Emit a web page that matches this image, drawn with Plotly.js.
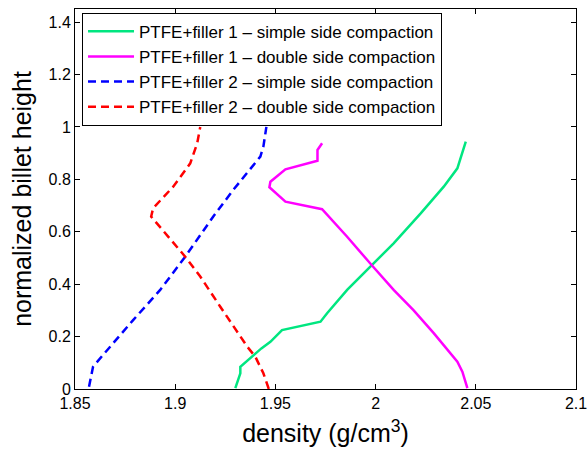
<!DOCTYPE html>
<html>
<head>
<meta charset="utf-8">
<script src="https://cdn.plot.ly/plotly-3.0.1.min.js"></script>
<style>html,body{margin:0;padding:0;background:#fff;}#chart{width:587px;height:450px;}</style>
</head>
<body>
<div id="chart"></div>
<script>
// Series names
const seriesNames = [
  "PTFE+filler 1 \u2013 simple side compaction",
  "PTFE+filler 1 \u2013 double side compaction",
  "PTFE+filler 2 \u2013 simple side compaction",
  "PTFE+filler 2 \u2013 double side compaction"
];

// PTFE+filler 1 – simple side compaction
const f1SimpleDensity = [1.930, 1.9315, 1.9325, 1.9325, 1.938, 1.943, 1.9475, 1.9533, 1.9725, 1.9758, 1.9858, 1.998, 2.009, 2.0225, 2.034, 2.0408, 2.0433, 2.045];
const f1SimpleHeight  = [0.003, 0.040, 0.060, 0.085, 0.123, 0.155, 0.180, 0.225, 0.257, 0.289, 0.378, 0.473, 0.556, 0.670, 0.772, 0.842, 0.900, 0.944];

// PTFE+filler 1 – double side compaction
const f1DoubleDensity = [2.0458, 2.0433, 2.0408, 2.029, 2.019, 2.009, 1.998, 1.9858, 1.9733, 1.955, 1.947, 1.9475, 1.955, 1.971, 1.971, 1.9733];
const f1DoubleHeight  = [0.003, 0.066, 0.104, 0.213, 0.300, 0.378, 0.473, 0.581, 0.686, 0.715, 0.770, 0.791, 0.838, 0.871, 0.912, 0.938];

// PTFE+filler 2 – simple side compaction
const f2SimpleDensity = [1.857, 1.859, 1.864, 1.879, 1.8925, 1.905, 1.919, 1.929, 1.9425, 1.944, 1.9455];
const f2SimpleHeight  = [0.009, 0.085, 0.130, 0.263, 0.378, 0.505, 0.658, 0.760, 0.887, 0.925, 1.000];

// PTFE+filler 2 – double side compaction
const f2DoubleDensity = [1.9467, 1.944, 1.940, 1.936, 1.9225, 1.9125, 1.905, 1.888, 1.889, 1.899, 1.9075, 1.911, 1.9125];
const f2DoubleHeight  = [0.000, 0.060, 0.123, 0.161, 0.314, 0.429, 0.505, 0.658, 0.690, 0.772, 0.861, 0.938, 1.000];

const xTickVals = [1.85, 1.9, 1.95, 2, 2.05, 2.1];
const xTickText = ["1.85", "1.9", "1.95", "2", "2.05", "2.1"];
const yTickVals = [0, 0.2, 0.4, 0.6, 0.8, 1, 1.2, 1.4];
const yTickText = ["0", "0.2", "0.4", "0.6", "0.8", "1", "1.2", "1.4"];

const font = "Liberation Sans, Arial, sans-serif";

const traces = [
  {x: f1SimpleDensity, y: f1SimpleHeight, name: seriesNames[0], mode: "lines",
   line: {color: "rgb(0,230,128)", width: 2.5}},
  {x: f1DoubleDensity, y: f1DoubleHeight, name: seriesNames[1], mode: "lines",
   line: {color: "rgb(255,0,255)", width: 2.5}},
  {x: f2SimpleDensity, y: f2SimpleHeight, name: seriesNames[2], mode: "lines",
   line: {color: "rgb(0,0,255)", width: 2.5, dash: "8px,5px"}},
  {x: f2DoubleDensity, y: f2DoubleHeight, name: seriesNames[3], mode: "lines",
   line: {color: "rgb(255,0,0)", width: 2.5, dash: "8px,5px"}}
];

const layout = {
  width: 587, height: 450,
  margin: {l: 75, r: 11, t: 9, b: 61, pad: 0},
  paper_bgcolor: "#fff", plot_bgcolor: "#fff",
  font: {family: font, size: 16, color: "#000"},
  showlegend: true,
  legend: {
    x: 0.014, y: 0.99, xanchor: "left", yanchor: "top",
    bgcolor: "#fff", bordercolor: "#000", borderwidth: 1,
    font: {family: font, size: 17, color: "#000"},
    itemwidth: 46,
    tracegroupgap: 0
  },
  xaxis: {
    range: [1.85, 2.1], tickvals: xTickVals, ticktext: xTickText,
    ticks: "inside", ticklen: 5, tickcolor: "#000", tickwidth: 1,
    showline: true, linecolor: "#000", linewidth: 1, mirror: "ticks",
    showgrid: false, zeroline: false, ticklabeloverflow: "allow",
    tickfont: {family: font, size: 16, color: "#000"},
    title: {text: "density (g/cm<sup>3</sup>)", font: {family: font, size: 25, color: "#000"}, standoff: 13}
  },
  yaxis: {
    range: [0, 1.45], tickvals: yTickVals, ticktext: yTickText,
    ticks: "inside", ticklen: 5, tickcolor: "#000", tickwidth: 1,
    showline: true, linecolor: "#000", linewidth: 1, mirror: "ticks",
    showgrid: false, zeroline: false,
    tickfont: {family: font, size: 16, color: "#000"},
    title: {text: "normalized billet height", font: {family: font, size: 25, color: "#000"}, standoff: 9}
  }
};

Plotly.newPlot("chart", traces, layout, {displayModeBar: false, staticPlot: true});
</script>
</body>
</html>
